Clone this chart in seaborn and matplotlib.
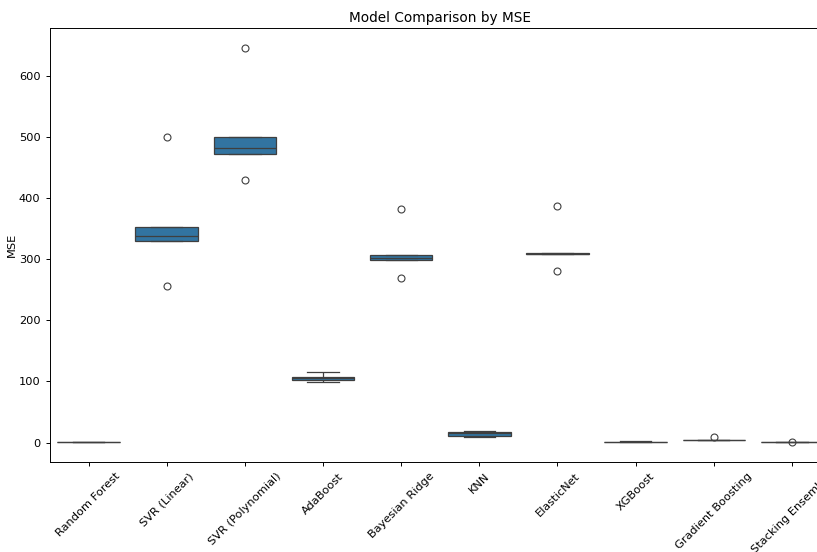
import matplotlib
matplotlib.use("Agg")
import matplotlib.pyplot as plt
import seaborn as sns
import pandas as pd

# Cross-validation MSE per fold for each model
models = ["Random Forest", "SVR (Linear)", "SVR (Polynomial)", "AdaBoost",
          "Bayesian Ridge", "KNN", "ElasticNet", "XGBoost",
          "Gradient Boosting", "Stacking Ensemble"]

mse_random_forest = [0.6, 0.7, 0.8, 0.9, 1.0]
mse_svr_linear = [257, 330, 338, 353, 500]
mse_svr_poly = [430, 473, 482, 500, 647]
mse_adaboost = [99, 102, 105, 108, 116]
mse_bayesian_ridge = [269, 299, 303, 307, 383]
mse_knn = [9.5, 10, 15, 18, 18.5]
mse_elasticnet = [281, 308.5, 309, 310, 388]
mse_xgboost = [0.5, 0.8, 1.0, 1.3, 1.9]
mse_gradient_boosting = [3.5, 3.8, 4.0, 4.3, 9.5]
mse_stacking = [0.4, 0.5, 0.6, 0.7, 1.4]

scores = [mse_random_forest, mse_svr_linear, mse_svr_poly, mse_adaboost,
          mse_bayesian_ridge, mse_knn, mse_elasticnet, mse_xgboost,
          mse_gradient_boosting, mse_stacking]

df = pd.DataFrame(
    [(m, v) for m, vals in zip(models, scores) for v in vals],
    columns=["Model", "MSE"],
)

fig = plt.figure(figsize=(8.17, 5.52), dpi=100)
ax = fig.add_axes([49.5 / 817, 90 / 552, (831 - 49.5) / 817, 434 / 552])

sns.boxplot(data=df, x="Model", y="MSE", ax=ax, color="#1f77b4",
            linewidth=0.9, flierprops=dict(markersize=5, markeredgewidth=0.8))

ax.set_title("Model Comparison by MSE", fontsize=9.8, pad=4)
ax.set_xlabel("Model", fontsize=8.2, labelpad=2)
ax.set_ylabel("MSE", fontsize=8.2, labelpad=1)
ax.tick_params(axis="both", labelsize=8.2, width=0.7, length=3)
plt.setp(ax.get_xticklabels(), rotation=45)
for s in ax.spines.values():
    s.set_linewidth(0.7)

fig.savefig("out.png", dpi=100)
